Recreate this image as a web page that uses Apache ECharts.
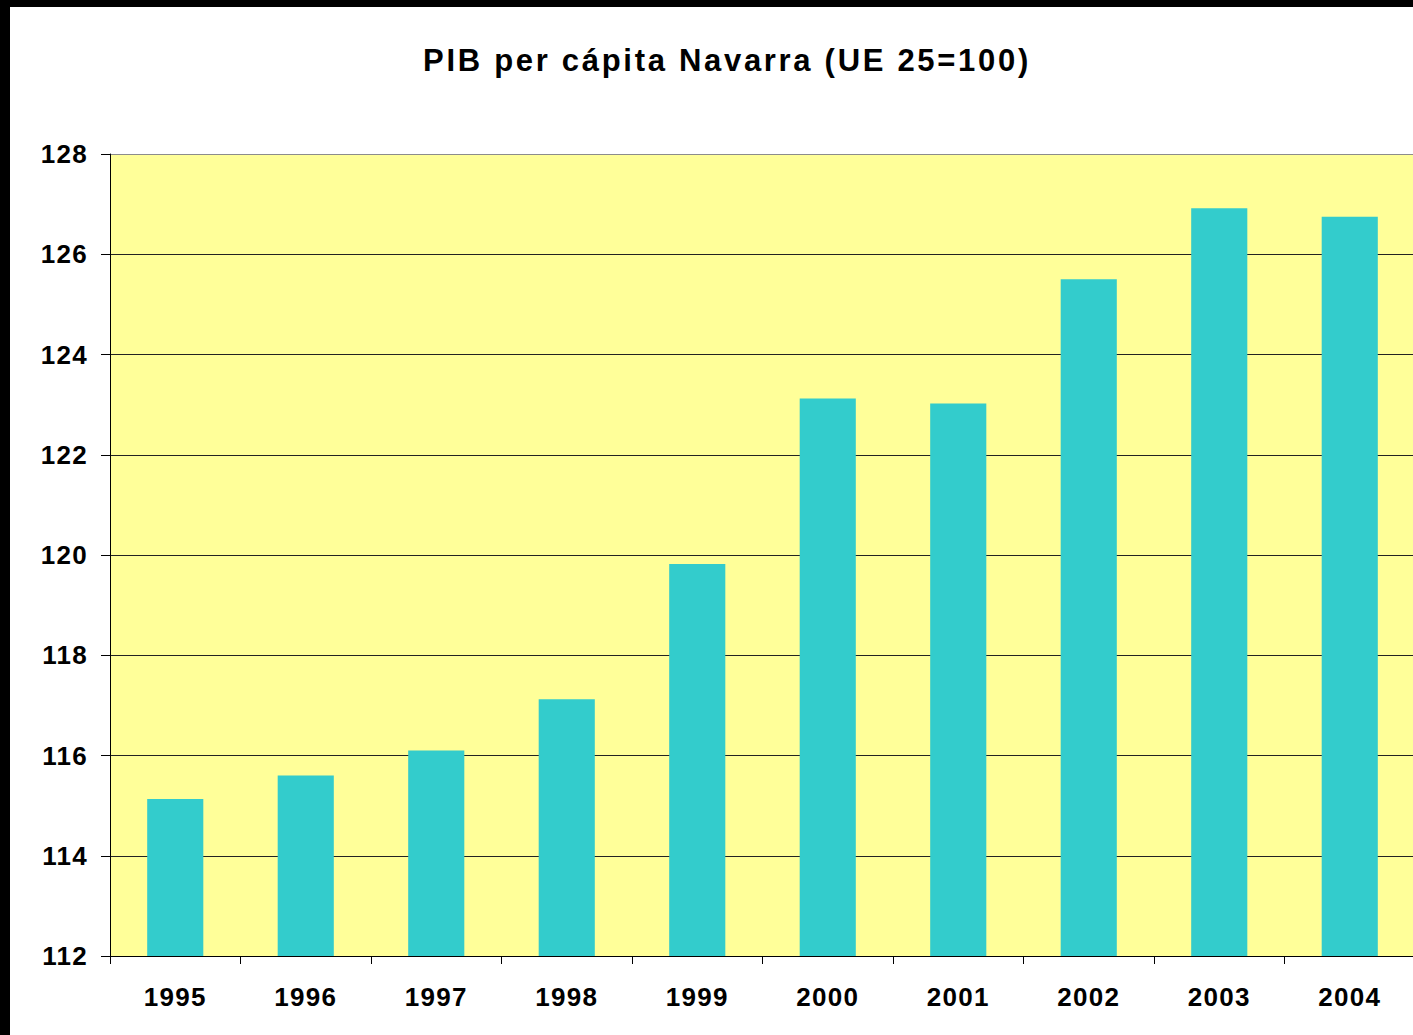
<!DOCTYPE html>
<html>
<head>
<meta charset="utf-8">
<title>PIB per cápita Navarra</title>
<script src="https://cdn.jsdelivr.net/npm/echarts@6/dist/echarts.min.js"></script>
<style>
    html, body { margin: 0; padding: 0; background: #000; overflow: hidden; width: 1413px; height: 1035px; }
    #chart { position: absolute; left: 10px; top: 7px; width: 1420px; height: 1028px; background: #fff; }
    #chart svg text { letter-spacing: 1.3px; }
    #chart svg text[style*="31px"] { letter-spacing: 2.7px; }
</style>
</head>
<body>
<div id="chart"></div>
<script>
// datos
var years = ['1995', '1996', '1997', '1998', '1999', '2000', '2001', '2002', '2003', '2004'];
var pibValues = [115.13, 115.6, 116.1, 117.12, 119.82, 123.12, 123.02, 125.5, 126.92, 126.75];
var yTicks = [112, 114, 116, 118, 120, 122, 124, 126, 128];

var fontFamily = "'Liberation Sans', Arial, sans-serif";

var chart = echarts.init(document.getElementById('chart'), null, { renderer: 'svg' });

// líneas horizontales: la de arriba en gris
var splitColors = yTicks.map(function(v, i) {
    return i === yTicks.length - 1 ? '#8c8c8c' : '#222';
});

var option = {
    animation: false,
    backgroundColor: '#fff',
    title: {
        text: 'PIB per cápita Navarra (UE 25=100)',
        left: 712,
        top: 33,
        textAlign: 'center',
        textStyle: {
            fontFamily: fontFamily,
            fontWeight: 'bold',
            fontSize: 31,
            color: '#000'
        }
    },
    grid: {
        show: true,
        left: 100,
        right: 15,
        top: 147,
        bottom: 79,
        backgroundColor: '#FFFF99',
        borderWidth: 0
    },
    xAxis: {
        type: 'category',
        data: years,
        axisLine: { show: true, lineStyle: { color: '#000', width: 1 } },
        axisTick: { show: true, length: 8, alignWithLabel: false, lineStyle: { color: '#000' } },
        axisLabel: {
            margin: 28,
            interval: 0,
            fontFamily: fontFamily,
            fontWeight: 'bold',
            fontSize: 26,
            color: '#000'
        }
    },
    yAxis: {
        type: 'value',
        min: yTicks[0],
        max: yTicks[yTicks.length - 1],
        interval: 2,
        axisLine: { show: true, lineStyle: { color: '#000', width: 1 } },
        axisTick: { show: true, length: 9, lineStyle: { color: '#000' } },
        axisLabel: {
            margin: 22,
            fontFamily: fontFamily,
            fontWeight: 'bold',
            fontSize: 26,
            color: '#000'
        },
        splitLine: {
            show: true,
            lineStyle: { color: splitColors, width: 1 }
        }
    },
    series: [
        {
            name: 'PIB per cápita',
            type: 'bar',
            data: pibValues,
            barWidth: '43%',
            itemStyle: {
                color: '#33CCCC'
            }
        }
    ]
};

chart.setOption(option);
</script>
</body>
</html>
